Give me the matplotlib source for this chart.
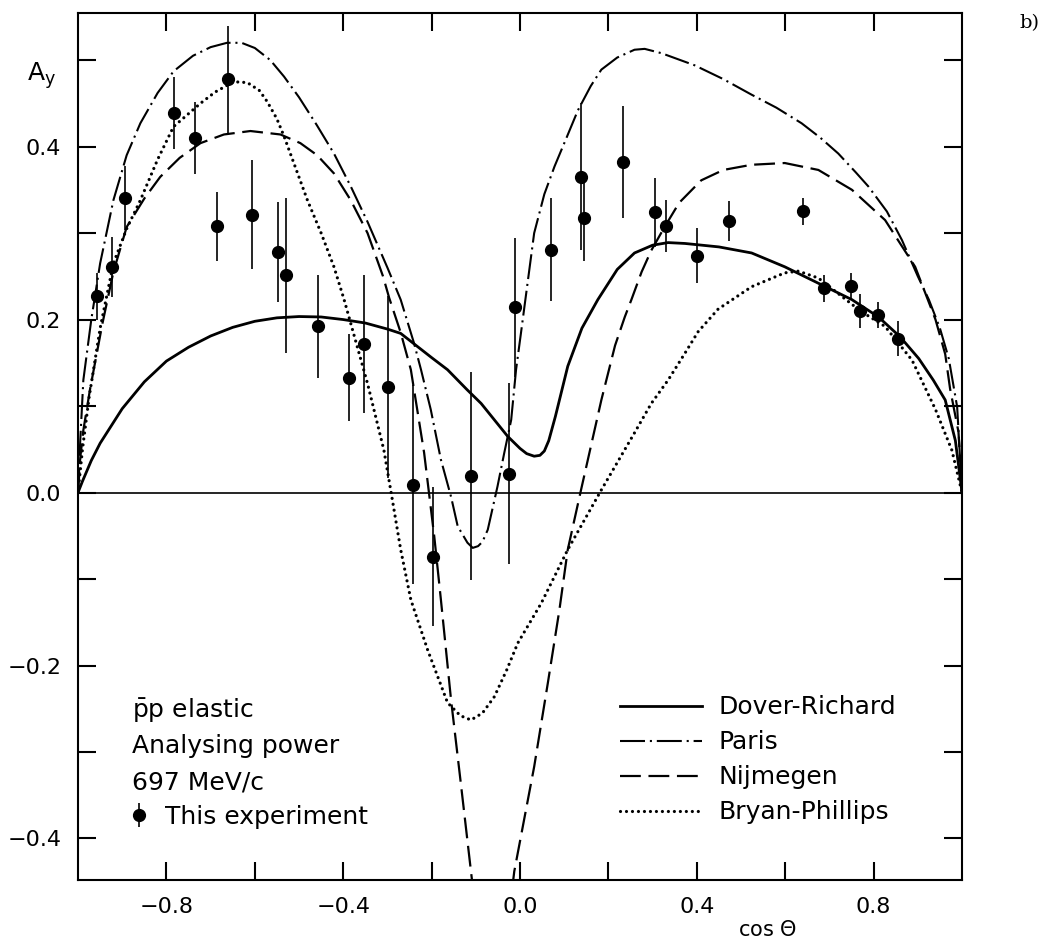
import matplotlib
matplotlib.use("Agg")
import matplotlib.pyplot as plt
import numpy as np

plt.rcParams['font.family'] = ['DejaVu Sans']
plt.rcParams['mathtext.fontset'] = 'dejavusans'
plt.rcParams['lines.scale_dashes'] = False

# measured points: cos(theta), A_y, error
exp_x = [-0.958, -0.924, -0.893, -0.782, -0.736, -0.686, -0.661, -0.606, -0.547, -0.529,
         -0.456, -0.387, -0.353, -0.299, -0.243, -0.196, -0.111, -0.024, -0.011, 0.069,
         0.138, 0.144, 0.233, 0.306, 0.330, 0.401, 0.472, 0.641, 0.688, 0.748,
         0.769, 0.811, 0.856]
exp_y = [0.227, 0.261, 0.340, 0.439, 0.410, 0.308, 0.478, 0.321, 0.278, 0.251,
         0.192, 0.133, 0.172, 0.122, 0.009, -0.074, 0.019, 0.022, 0.214, 0.281,
         0.365, 0.318, 0.382, 0.324, 0.308, 0.274, 0.314, 0.325, 0.236, 0.239,
         0.210, 0.205, 0.178]
exp_err = [0.027, 0.035, 0.037, 0.042, 0.042, 0.040, 0.062, 0.063, 0.058, 0.090,
           0.060, 0.050, 0.080, 0.105, 0.115, 0.080, 0.120, 0.105, 0.080, 0.060,
           0.085, 0.050, 0.065, 0.040, 0.030, 0.032, 0.023, 0.016, 0.016, 0.015,
           0.020, 0.015, 0.020]

# model curves
dr_x = [-1.0, -0.99, -0.97, -0.95, -0.9, -0.85, -0.8, -0.75, -0.7, -0.65, -0.6, -0.55,
        -0.5, -0.45, -0.4, -0.35, -0.3, -0.27, -0.2, -0.164, -0.12, -0.088, -0.028, 0.0,
        0.015, 0.032, 0.045, 0.055, 0.065, 0.08, 0.108, 0.14, 0.176, 0.22, 0.259, 0.3,
        0.335, 0.373, 0.45, 0.524, 0.599, 0.675, 0.751, 0.811, 0.86, 0.902, 0.935, 0.962,
        0.985, 1.0]
dr_y = [0.0, 0.013, 0.037, 0.057, 0.097, 0.128, 0.152, 0.168, 0.181, 0.191, 0.198, 0.202,
        0.2035, 0.203, 0.200, 0.196, 0.189, 0.184, 0.156, 0.142, 0.119, 0.103, 0.065, 0.051,
        0.045, 0.042, 0.043, 0.048, 0.060, 0.088, 0.146, 0.190, 0.223, 0.258, 0.277, 0.286,
        0.289, 0.288, 0.284, 0.277, 0.261, 0.242, 0.223, 0.203, 0.180, 0.155, 0.130, 0.107,
        0.060, 0.0]

pa_x = [-1.0, -0.995, -0.988, -0.97, -0.95, -0.92, -0.89, -0.859, -0.82, -0.784, -0.74,
        -0.7, -0.663, -0.63, -0.6, -0.565, -0.534, -0.5, -0.46, -0.421, -0.383, -0.345,
        -0.3, -0.27, -0.24, -0.224, -0.202, -0.179, -0.156, -0.141, -0.119, -0.107, -0.095,
        -0.085, -0.073, -0.051, -0.036, -0.02, -0.009, 0.002, 0.032, 0.055, 0.078, 0.105,
        0.131, 0.16, 0.184, 0.22, 0.259, 0.282, 0.32, 0.395, 0.46, 0.524, 0.58, 0.637,
        0.68, 0.72, 0.76, 0.788, 0.83, 0.864, 0.9, 0.925, 0.95, 0.97, 0.989, 1.0]
pa_y = [0.0, 0.06, 0.13, 0.20, 0.265, 0.338, 0.39, 0.427, 0.462, 0.487, 0.505,
        0.515, 0.520, 0.520, 0.514, 0.500, 0.481, 0.457, 0.425, 0.392, 0.354, 0.313,
        0.26, 0.223, 0.173, 0.142, 0.096, 0.038, -0.005, -0.039, -0.058, -0.064, -0.062,
        -0.057, -0.043, 0.007, 0.045, 0.084, 0.142, 0.184, 0.300, 0.345, 0.377, 0.41,
        0.442, 0.470, 0.489, 0.503, 0.512, 0.513, 0.508, 0.494, 0.478, 0.460, 0.445, 0.427,
        0.410, 0.392, 0.370, 0.354, 0.325, 0.292, 0.250, 0.223, 0.19, 0.155, 0.099, 0.0]

nj_x = [-1.0, -0.995, -0.988, -0.973, -0.945, -0.92, -0.89, -0.85, -0.814, -0.77, -0.723,
        -0.67, -0.61, -0.542, -0.497, -0.459, -0.421, -0.383, -0.345, -0.31, -0.296, -0.27,
        -0.247, -0.217, -0.194, -0.179, -0.156, -0.134, -0.111, -0.09, -0.06, -0.035, -0.013,
        0.032, 0.063, 0.089, 0.108, 0.138, 0.184, 0.215, 0.237, 0.252, 0.275, 0.297, 0.327,
        0.36, 0.41, 0.46, 0.524, 0.599, 0.675, 0.751, 0.826, 0.894, 0.94, 0.962, 0.973,
        0.992, 1.0]
nj_y = [0.0, 0.04, 0.072, 0.119, 0.195, 0.255, 0.307, 0.340, 0.365, 0.387, 0.404,
        0.414, 0.418, 0.414, 0.404, 0.390, 0.369, 0.338, 0.300, 0.250, 0.225, 0.185,
        0.142, 0.046, -0.051, -0.124, -0.240, -0.336, -0.438, -0.53, -0.58, -0.53, -0.438,
        -0.317, -0.220, -0.136, -0.066, 0.003, 0.107, 0.170, 0.203, 0.223, 0.255, 0.28, 0.307,
        0.335, 0.361, 0.373, 0.379, 0.381, 0.373, 0.350, 0.315, 0.261, 0.200, 0.160, 0.120,
        0.07, 0.0]

bp_x = [-1.0, -0.99, -0.975, -0.95, -0.92, -0.89, -0.859, -0.82, -0.784, -0.723, -0.69,
        -0.648, -0.617, -0.59, -0.572, -0.55, -0.534, -0.481, -0.45, -0.421, -0.398, -0.345,
        -0.308, -0.289, -0.27, -0.247, -0.209, -0.164, -0.135, -0.111, -0.085, -0.058, -0.03,
        -0.005, 0.048, 0.108, 0.184, 0.259, 0.297, 0.335, 0.373, 0.403, 0.448, 0.524, 0.599,
        0.63, 0.675, 0.72, 0.77, 0.826, 0.887, 0.94, 0.977, 1.0]
bp_y = [0.0, 0.05, 0.11, 0.19, 0.265, 0.305, 0.338, 0.385, 0.423, 0.450, 0.463,
        0.475, 0.474, 0.465, 0.452, 0.432, 0.412, 0.338, 0.300, 0.261, 0.223, 0.126,
        0.049, -0.008, -0.066, -0.124, -0.182, -0.243, -0.258, -0.263, -0.255, -0.236, -0.205,
        -0.174, -0.128, -0.066, 0.003, 0.069, 0.103, 0.130, 0.161, 0.186, 0.212, 0.238, 0.254,
        0.256, 0.248, 0.230, 0.210, 0.192, 0.153, 0.096, 0.049, 0.0]

fig = plt.figure(figsize=(10.56, 9.44), dpi=100)
ax = fig.add_axes([0.0739, 0.0678, 0.8371, 0.918])

ax.axhline(0.0, color='black', lw=1.2)

l_dr, = ax.plot(dr_x, dr_y, color='black', lw=2.0, label='Dover-Richard')
l_pa, = ax.plot(pa_x, pa_y, color='black', lw=1.5, dashes=(18, 3.5, 1.5, 3.5),
                label='Paris')
l_nj, = ax.plot(nj_x, nj_y, color='black', lw=1.6, dashes=(15, 5.5), label='Nijmegen')
l_bp, = ax.plot(bp_x, bp_y, color='black', lw=2.3, dashes=(0.01, 4.3),
                dash_capstyle='round', label='Bryan-Phillips')

ax.errorbar(exp_x, exp_y, yerr=exp_err, fmt='o', color='black', ms=8.5,
            elinewidth=1.2, capsize=0)

ax.set_xlim(-1.0, 1.0)
ax.set_ylim(-0.448, 0.554)

ax.set_xticks(np.arange(-0.8, 0.81, 0.2))
ax.set_xticklabels(['\u22120.8', '', '\u22120.4', '', '0.0', '', '0.4', '', '0.8'])
ax.set_yticks(np.arange(-0.4, 0.51, 0.1))
ax.set_yticklabels(['\u22120.4', '', '\u22120.2', '', '0.0', '', '0.2', '', '0.4', ''])
ax.tick_params(direction='in', length=13, width=1.5, top=True, right=True,
               labelsize=16, pad=12)
for s in ax.spines.values():
    s.set_linewidth(1.5)

ax.text(-0.0577, 0.9227, r'A$_{\mathrm{y}}$', transform=ax.transAxes, fontsize=18,
        ha='left', va='baseline')
ax.text(0.78, -0.0577, r'cos $\Theta$', transform=ax.transAxes, fontsize=15,
        ha='center', va='center')
fig.text(0.975, 0.985, 'b)', family='DejaVu Serif', fontsize=14, ha='center', va='top')

fs = 18
ax.text(0.061, 0.187, r'$\bar{\mathrm{p}}\mathrm{p}$ elastic', transform=ax.transAxes,
        fontsize=fs, va='baseline')
ax.text(0.061, 0.1465, 'Analysing power', transform=ax.transAxes, fontsize=fs,
        va='baseline')
ax.text(0.061, 0.105, '697 MeV/c', transform=ax.transAxes, fontsize=fs, va='baseline')
ax.text(0.0984, 0.0646, 'This experiment', transform=ax.transAxes, fontsize=fs,
        va='baseline')
ax.errorbar([0.069], [0.075], yerr=[0.0138], fmt='o', color='black', ms=8.5,
            elinewidth=1.2, capsize=0, transform=ax.transAxes, clip_on=False)

ax.legend(handles=[l_dr, l_pa, l_nj, l_bp], loc='upper left',
          bbox_to_anchor=(0.613, 0.213), frameon=False, fontsize=fs,
          handlelength=3.3, handletextpad=0.65, labelspacing=0.44,
          borderpad=0, borderaxespad=0)

fig.savefig('out.png', dpi=100)
